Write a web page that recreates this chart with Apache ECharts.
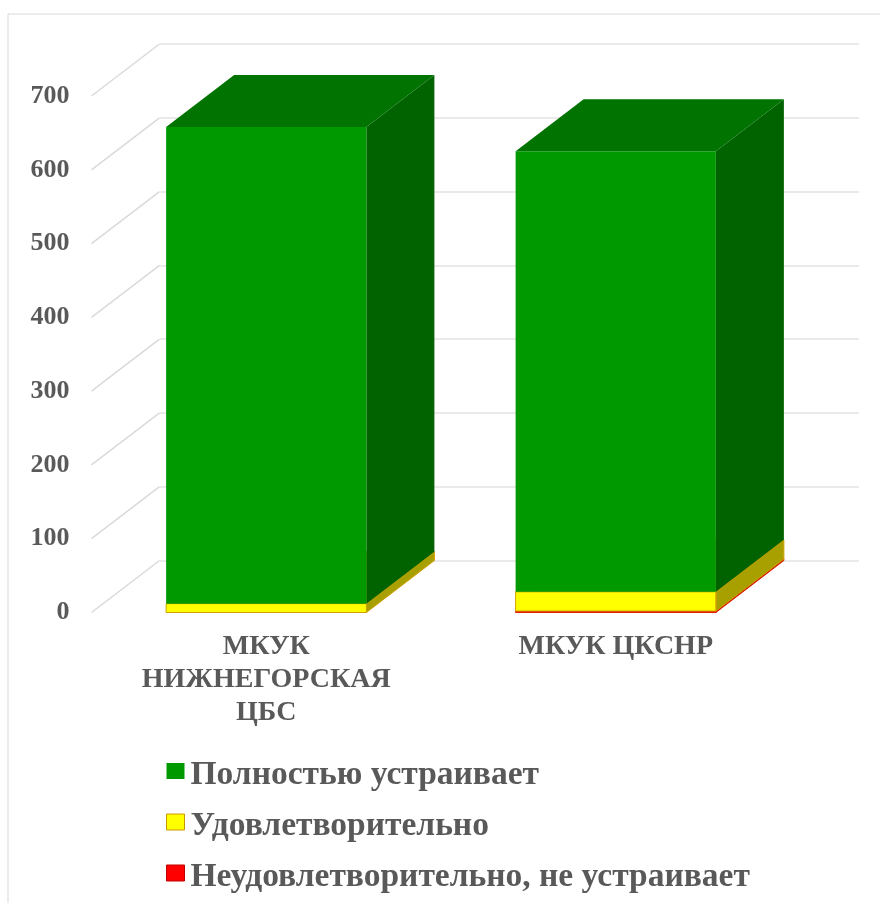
<!DOCTYPE html>
<html>
<head>
<meta charset="utf-8">
<style>html,body{margin:0;padding:0;background:#fff}#c{width:880px;height:903px}</style>
<script src="https://cdn.jsdelivr.net/npm/echarts@6/dist/echarts.min.js"></script>
</head>
<body>
<div id="c"></div>
<script>
const categories = ['МКУК\nНИЖНЕГОРСКАЯ\nЦБС', 'МКУК ЦКСНР'];
const unsatisfactory = [0, 2];
const satisfactory = [12, 26];
const fullySatisfied = [646, 597];
const yTicks = [0, 100, 200, 300, 400, 500, 600, 700];
const nameFull = 'Полностью устраивает';
const nameOk = 'Удовлетворительно';
const nameBad = 'Неудовлетворительно, не устраивает';

const DX = 68, DY = -52;
const FONT = '"Liberation Serif", serif';
const TEXT = '#595959';

function stack(values, below) {
  return values.map((v, i) => [i, below[i], below[i] + v]);
}
const zeros = categories.map(() => 0);
const t1 = unsatisfactory.map((v, i) => v);
const t2 = satisfactory.map((v, i) => v + t1[i]);

function box(front, side, top, edge) {
  return function (params, api) {
    const lo = api.value(1), hi = api.value(2);
    if (hi <= lo) return null;
    const w = api.size([1, 0])[0] * 0.573;
    const c = api.coord([api.value(0), lo]);
    const d = api.coord([api.value(0), hi]);
    const x0 = c[0] - w / 2, x1 = c[0] + w / 2, yb = c[1], yt = d[1];
    const s = { stroke: edge, lineWidth: edge ? 1 : 0 };
    return {
      type: 'group',
      children: [
        { type: 'polygon', shape: { points: [[x1, yb], [x1 + DX, yb + DY], [x1 + DX, yt + DY], [x1, yt]] }, style: { fill: side, stroke: s.stroke, lineWidth: s.lineWidth } },
        { type: 'polygon', shape: { points: [[x0, yt], [x1, yt], [x1 + DX, yt + DY], [x0 + DX, yt + DY]] }, style: { fill: top, stroke: s.stroke, lineWidth: s.lineWidth } },
        { type: 'rect', shape: { x: x0, y: yt, width: w, height: yb - yt }, style: { fill: front, stroke: s.stroke, lineWidth: s.lineWidth } }
      ]
    };
  };
}

const option = {
  animation: false,
  backgroundColor: '#fff',
  graphic: [
    { type: 'line', silent: true, shape: { x1: 8, y1: 14, x2: 880, y2: 14 }, style: { stroke: '#D9D9D9', lineWidth: 1 } },
    { type: 'line', silent: true, shape: { x1: 8, y1: 14, x2: 8, y2: 903 }, style: { stroke: '#D9D9D9', lineWidth: 1 } }
  ],
  legend: {
    orient: 'vertical', left: 161, top: 745, height: 158, itemGap: 9, itemWidth: 18, itemHeight: 16,
    icon: 'rect', selectedMode: false,
    formatter: function (name) { return '{a|' + name + '}'; },
    textStyle: { rich: { a: { fontFamily: FONT, fontWeight: 'bold', fontSize: 33.5, color: TEXT, lineHeight: 30, padding: [8, 0, 0, 1] } } },
    data: [
      { name: nameFull, itemStyle: { color: '#009900' } },
      { name: nameOk, itemStyle: { color: '#FFFF00', borderColor: '#C89800', borderWidth: 1 } },
      { name: nameBad, itemStyle: { color: '#FF0000', borderColor: '#C00000', borderWidth: 1 } }
    ]
  },
  grid: [
    { left: 160, right: 21, top: 44, bottom: 342.5 },
    { left: 91.5, right: 89.5, top: 96, bottom: 290.5 }
  ],
  xAxis: [
    { gridIndex: 0, type: 'category', data: categories, show: false },
    { gridIndex: 1, type: 'category', data: categories,
      axisLine: { show: false }, axisTick: { show: false },
      axisLabel: { fontFamily: FONT, fontWeight: 'bold', fontSize: 28, color: TEXT, lineHeight: 33, margin: 18, interval: 0 } }
  ],
  yAxis: [
    { gridIndex: 0, type: 'value', min: 0, max: 700, interval: 100,
      axisLabel: { show: false }, axisLine: { show: false }, axisTick: { show: false },
      splitLine: { show: true, lineStyle: { color: '#E3E3E3', width: 1.5 } } },
    { gridIndex: 1, type: 'value', min: 0, max: 700, interval: 100,
      axisLine: { show: false }, axisTick: { show: false }, splitLine: { show: false },
      axisLabel: { fontFamily: FONT, fontWeight: 'bold', fontSize: 26, color: TEXT, margin: 22 } }
  ],
  series: [
    { type: 'custom', name: 'walls', xAxisIndex: 1, yAxisIndex: 1, silent: true, z: 1, clip: false,
      data: yTicks.map(v => [0, v]),
      renderItem: function (params, api) {
        const p = api.coord([0, api.value(1)]);
        const x = params.coordSys.x;
        return { type: 'line', shape: { x1: x, y1: p[1], x2: x + DX, y2: p[1] + DY }, style: { stroke: '#DADADA', lineWidth: 1.5 } };
      } },
    { type: 'custom', name: nameBad, xAxisIndex: 1, yAxisIndex: 1, z: 2, clip: false,
      itemStyle: { color: '#FF0000' }, encode: { x: 0, y: 2 },
      data: stack(unsatisfactory, zeros), renderItem: box('#FF0000', '#B00000', '#C80000', '#E02000') },
    { type: 'custom', name: nameOk, xAxisIndex: 1, yAxisIndex: 1, z: 3, clip: false,
      itemStyle: { color: '#FFFF00' }, encode: { x: 0, y: 2 },
      data: stack(satisfactory, t1), renderItem: box('#FFFF00', '#A8A000', '#B8B000', '#D0A000') },
    { type: 'custom', name: nameFull, xAxisIndex: 1, yAxisIndex: 1, z: 4, clip: false,
      itemStyle: { color: '#009900' }, encode: { x: 0, y: 2 },
      data: stack(fullySatisfied, t2), renderItem: box('#009900', '#006300', '#007300', null) }
  ]
};
const chart = echarts.init(document.getElementById('c'), null, { renderer: 'canvas' });
chart.setOption(option);
</script>
</body>
</html>
